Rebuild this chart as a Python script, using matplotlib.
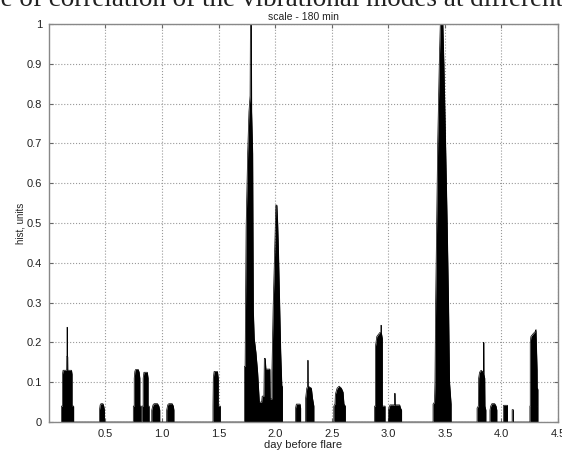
import matplotlib
matplotlib.use("Agg")
import matplotlib.pyplot as plt

plt.rcParams['font.family'] = ['Liberation Sans', 'DejaVu Sans']

# outline of the histogram (day before flare, hist units)
day = [0.111, 0.111, 0.12, 0.12, 0.125, 0.157, 0.158, 0.16, 0.16, 0.163, 0.163, 0.166, 0.167, 0.2, 0.205, 0.205, 0.219, 0.219,
       0.447, 0.447, 0.453, 0.46, 0.478, 0.485, 0.491, 0.491,
       0.746, 0.746, 0.754, 0.754, 0.76, 0.767, 0.79, 0.798, 0.804, 0.804, 0.813, 0.813,
       0.822, 0.822, 0.833, 0.833, 0.84, 0.87, 0.877, 0.877, 0.886, 0.886,
       0.909, 0.909, 0.92, 0.93, 0.96, 0.972, 0.98, 0.98,
       1.041, 1.041, 1.05, 1.06, 1.09, 1.1, 1.105, 1.105,
       1.45, 1.45, 1.453, 1.46, 1.49, 1.497, 1.497, 1.515, 1.515,
       1.728, 1.728, 1.734, 1.743, 1.757, 1.768, 1.778, 1.781, 1.789, 1.792, 1.801, 1.807, 1.815, 1.83, 1.845,
       1.86, 1.88, 1.885, 1.9, 1.904, 1.912, 1.918, 1.953, 1.956, 1.971, 1.971, 1.982, 1.995, 2.006, 2.015,
       2.022, 2.029, 2.04, 2.049, 2.059, 2.064, 2.064,
       2.18, 2.18, 2.187, 2.22, 2.225, 2.225,
       2.269, 2.269, 2.279, 2.287, 2.288, 2.291, 2.292, 2.32, 2.33, 2.342, 2.342,
       2.518, 2.518, 2.528, 2.532, 2.547, 2.565, 2.585, 2.6, 2.608, 2.62, 2.62,
       2.878, 2.878, 2.886, 2.886, 2.898, 2.925, 2.934, 2.934, 2.938, 2.938, 2.947, 2.947, 2.971, 2.971,
       3.0, 3.0, 3.008, 3.015, 3.055, 3.056, 3.06, 3.061, 3.1, 3.108, 3.117, 3.117,
       3.395, 3.395, 3.408, 3.412, 3.418, 3.427, 3.436, 3.45, 3.459, 3.482, 3.491, 3.506, 3.52, 3.532, 3.541,
       3.555, 3.555,
       3.784, 3.784, 3.795, 3.798, 3.806, 3.82, 3.84, 3.841, 3.844, 3.845, 3.852, 3.854, 3.862, 3.862,
       3.898, 3.898, 3.905, 3.915, 3.94, 3.952, 3.959, 3.959,
       4.018, 4.018, 4.053, 4.053,
       4.094, 4.094, 4.105, 4.105,
       4.251, 4.251, 4.254, 4.254, 4.26, 4.28, 4.3, 4.305, 4.308, 4.315, 4.317, 4.318, 4.318, 4.322, 4.322]
hist = [0, 0.04, 0.04, 0.12, 0.13, 0.13, 0.165, 0.165, 0.238, 0.238, 0.165, 0.165, 0.13, 0.13, 0.12, 0.04, 0.04, 0,
        0, 0.03, 0.043, 0.046, 0.046, 0.04, 0.03, 0,
        0, 0.04, 0.04, 0.11, 0.128, 0.132, 0.132, 0.125, 0.11, 0.04, 0.04, 0,
        0, 0.04, 0.04, 0.11, 0.125, 0.125, 0.11, 0.04, 0.04, 0,
        0, 0.03, 0.043, 0.046, 0.046, 0.04, 0.03, 0,
        0, 0.03, 0.043, 0.046, 0.046, 0.04, 0.03, 0,
        0, 0.04, 0.11, 0.127, 0.127, 0.11, 0.04, 0.04, 0,
        0, 0.14, 0.14, 0.49, 0.68, 0.78, 0.82, 1.0, 1.0, 0.78, 0.675, 0.28, 0.21, 0.175, 0.125,
        0.05, 0.05, 0.065, 0.065, 0.16, 0.16, 0.133, 0.133, 0.058, 0.058, 0.125, 0.29, 0.425, 0.545, 0.545,
        0.5, 0.43, 0.29, 0.175, 0.09, 0.09, 0,
        0, 0.035, 0.045, 0.045, 0.035, 0,
        0, 0.06, 0.085, 0.09, 0.155, 0.155, 0.09, 0.085, 0.06, 0.04, 0,
        0, 0.04, 0.045, 0.07, 0.085, 0.09, 0.085, 0.075, 0.045, 0.04, 0,
        0, 0.04, 0.04, 0.19, 0.215, 0.225, 0.225, 0.243, 0.243, 0.225, 0.21, 0.04, 0.04, 0,
        0, 0.03, 0.038, 0.043, 0.043, 0.072, 0.072, 0.043, 0.043, 0.035, 0.03, 0,
        0, 0.045, 0.05, 0.1, 0.3, 0.5, 0.7, 0.9, 1.0, 1.0, 0.9, 0.7, 0.5, 0.3, 0.1,
        0.045, 0,
        0, 0.035, 0.04, 0.11, 0.125, 0.13, 0.125, 0.2, 0.2, 0.12, 0.11, 0.04, 0.03, 0,
        0, 0.03, 0.04, 0.046, 0.046, 0.04, 0.03, 0,
        0, 0.042, 0.042, 0,
        0, 0.031, 0.031, 0,
        0, 0.04, 0.04, 0.2, 0.215, 0.222, 0.228, 0.232, 0.2, 0.13, 0.04, 0.04, 0.083, 0.083, 0]

xticks = [0.5, 1.0, 1.5, 2.0, 2.5, 3.0, 3.5, 4.0, 4.5]
yticks = [0, 0.1, 0.2, 0.3, 0.4, 0.5, 0.6, 0.7, 0.8, 0.9, 1]
ylabels = ['0', '0.1', '0.2', '0.3', '0.4', '0.5', '0.6', '0.7', '0.8', '0.9', '1']

fig = plt.figure(figsize=(5.62, 4.54), dpi=100)
ax = fig.add_axes([0.087, 0.0705, 0.906, 0.8765])

# caption line from the page above, cut by the crop
fig.text(-0.018, 0.986, 'se of correlation of the vibrational modes at different',
         family=['Liberation Serif', 'DejaVu Serif'], fontsize=19.5,
         ha='left', va='baseline', color='#222222')

ax.fill_between(day, hist, color='black', lw=0)
ax.plot(day, hist, color='black', lw=0.5)

ax.set_xlim(0, 4.5)
ax.set_ylim(0, 1)
ax.set_xticks(xticks)
ax.set_xticklabels([f'{t:.1f}' for t in xticks])
ax.set_yticks(yticks)
ax.set_yticklabels(ylabels)

ax.grid(True, linestyle=':', color='#999999', lw=0.8)
ax.set_axisbelow(True)
ax.tick_params(direction='in', top=True, right=True, length=3, labelsize=8,
               color='#666666', labelcolor='#222222', pad=5)
for s in ax.spines.values():
    s.set_color('#888888')
    s.set_linewidth(1.0)

ax.set_title('scale - 180 min', fontsize=7.5, color='#222222', pad=3)
ax.set_xlabel('day before flare', fontsize=8, color='#222222', labelpad=1)
ax.set_ylabel('hist, units', fontsize=7, color='#222222', labelpad=1)

fig.savefig('out.png', dpi=100)
